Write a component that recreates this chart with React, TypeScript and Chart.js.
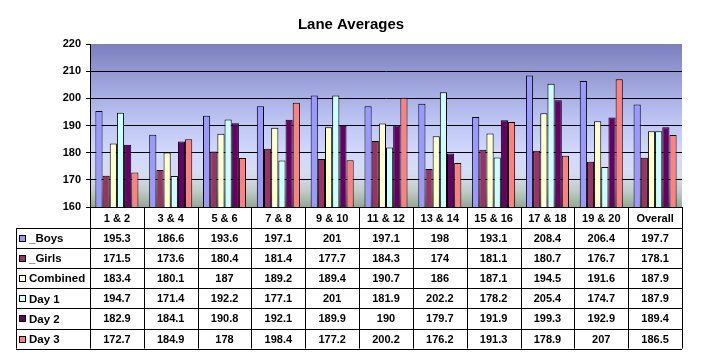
import React, { useEffect, useRef } from "react";
import { Chart, registerables } from "chart.js";

Chart.register(...registerables);

const TITLE = "Lane Averages";
const categories = ["1 & 2", "3 & 4", "5 & 6", "7 & 8", "9 & 10", "11 & 12", "13 & 14", "15 & 16", "17 & 18", "19 & 20", "Overall"];
const seriesNames = ["_Boys", "_Girls", "Combined", "Day 1", "Day 2", "Day 3"];
const boys = [195.3, 186.6, 193.6, 197.1, 201, 197.1, 198, 193.1, 208.4, 206.4, 197.7];
const girls = [171.5, 173.6, 180.4, 181.4, 177.7, 184.3, 174, 181.1, 180.7, 176.7, 178.1];
const combined = [183.4, 180.1, 187, 189.2, 189.4, 190.7, 186, 187.1, 194.5, 191.6, 187.9];
const day1 = [194.7, 171.4, 192.2, 177.1, 201, 181.9, 202.2, 178.2, 205.4, 174.7, 187.9];
const day2 = [182.9, 184.1, 190.8, 192.1, 189.9, 190, 179.7, 191.9, 199.3, 192.9, 189.4];
const day3 = [172.7, 184.9, 178, 198.4, 177.2, 200.2, 176.2, 191.3, 178.9, 207, 186.5];
const seriesColors = ["#9999FF", "#993366", "#FFFFCC", "#CCFFFF", "#660066", "#FF8080"];
const yMin = 160;
const yMax = 220;
const yStep = 10;

const FONT_FAMILY = 'Arial, "Liberation Sans", sans-serif';

const bgPlugin = {
  id: "plotBg",
  beforeDraw(chart: any) {
    const { ctx, chartArea } = chart;
    const { left, top, right, bottom } = chartArea;
    const g = ctx.createLinearGradient(0, top, 0, bottom);
    g.addColorStop(0, "#7C80BE");
    g.addColorStop(0.45, "#BAC2F2");
    g.addColorStop(0.68, "#D2DAFC");
    g.addColorStop(0.8, "#D6DCF0");
    g.addColorStop(0.9, "#C0CCC8");
    g.addColorStop(1, "#94AA94");
    ctx.save();
    ctx.fillStyle = g;
    ctx.fillRect(left, top, right - left, bottom - top);
    ctx.restore();
  },
};

const tablePlugin = {
  id: "dataTable",
  afterDraw(chart: any) {
    const { ctx, chartArea } = chart;
    const xs = chart.scales.x;
    const n = categories.length;
    const colW = (chartArea.right - chartArea.left) / n;
    const top = chartArea.bottom;
    const headerH = 21;
    const rowH = 20.1;
    const labelLeft = 16;
    const nRows = chart.data.datasets.length;
    const tableBottom = top + headerH + rowH * nRows;

    ctx.save();
    ctx.strokeStyle = "#000";
    ctx.lineWidth = 1;
    const line = (x1: number, y1: number, x2: number, y2: number) => {
      ctx.beginPath();
      ctx.moveTo(x1, y1);
      ctx.lineTo(x2, y2);
      ctx.stroke();
    };
    const snap = (v: number) => Math.round(v) + 0.5;

    // horizontal lines
    line(chartArea.left, snap(top), chartArea.right, snap(top));
    for (let r = 0; r <= nRows; r++) {
      const y = snap(top + headerH + r * rowH);
      line(labelLeft, y, chartArea.right, y);
    }
    // vertical lines
    for (let i = 0; i <= n; i++) {
      const x = snap(xs.getPixelForValue(0) - colW / 2 + i * colW);
      line(x, top, x, tableBottom);
    }
    line(snap(labelLeft), top + headerH, snap(labelLeft), tableBottom);

    ctx.fillStyle = "#000";
    ctx.font = `bold 11px ${FONT_FAMILY}`;
    ctx.textAlign = "center";
    ctx.textBaseline = "middle";
    // header
    chart.data.labels.forEach((lab: string, i: number) => {
      ctx.fillText(lab, xs.getPixelForValue(i), top + headerH / 2 + 1);
    });
    // rows
    chart.data.datasets.forEach((ds: any, r: number) => {
      const cy = top + headerH + rowH * r + rowH / 2 + 1;
      ds.data.forEach((v: number, i: number) => {
        ctx.fillText(String(v), xs.getPixelForValue(i), cy);
      });
      // legend key
      ctx.fillStyle = ds.backgroundColor;
      ctx.fillRect(19, Math.round(cy - 4), 6, 6);
      ctx.strokeStyle = "#000";
      ctx.strokeRect(19.5, Math.round(cy - 4) + 0.5, 6, 6);
      ctx.fillStyle = "#000";
      ctx.textAlign = "left";
      ctx.font = `bold 11.5px ${FONT_FAMILY}`;
      ctx.fillText(ds.label, 29, cy);
      ctx.font = `bold 11px ${FONT_FAMILY}`;
      ctx.textAlign = "center";
    });
    ctx.restore();
  },
};

export default function App() {
  const ref = useRef<HTMLCanvasElement | null>(null);

  useEffect(() => {
    document.body.style.margin = "0";
    const canvas = ref.current;
    if (!canvas) return;
    const seriesData = [boys, girls, combined, day1, day2, day3];
    const chart = new Chart(canvas, {
      type: "bar",
      data: {
        labels: categories,
        datasets: seriesNames.map((name, i) => ({
          label: name,
          data: seriesData[i],
          backgroundColor: seriesColors[i],
          borderColor: "#000",
          borderWidth: 1,
          borderSkipped: "bottom",
          categoryPercentage: 0.8,
          barPercentage: 1.0,
        })),
      },
      options: {
        responsive: false,
        animation: false,
        devicePixelRatio: 1,
        layout: { padding: { left: 20, right: 20, top: 0, bottom: 149 } },
        plugins: {
          legend: { display: false },
          tooltip: { enabled: false },
          title: {
            display: true,
            text: TITLE,
            color: "#000",
            font: { family: FONT_FAMILY, size: 15, weight: "bold" },
            padding: { top: 16, bottom: 10 },
          },
        },
        scales: {
          x: {
            display: false,
            offset: true,
          },
          y: {
            min: yMin,
            max: yMax,
            afterFit: (scale: any) => {
              scale.width = 70;
            },
            ticks: {
              stepSize: yStep,
              color: "#000",
              padding: 5,
              font: { family: FONT_FAMILY, size: 11, weight: "bold" },
            },
            grid: {
              color: (c: any) => (c.tick && c.tick.value === yMax ? "rgba(0,0,0,0)" : "#000"),
              tickColor: "#000",
              tickLength: 4,
              lineWidth: 1,
            },
            border: { display: true, color: "#000" },
          },
        },
      },
      plugins: [bgPlugin, tablePlugin],
    });
    return () => chart.destroy();
  }, []);

  return (
    <div style={{ width: 702, height: 356, position: "relative", background: "#fff" }}>
      <canvas ref={ref} width={702} height={356} style={{ width: 702, height: 356, display: "block" }} />
    </div>
  );
}
